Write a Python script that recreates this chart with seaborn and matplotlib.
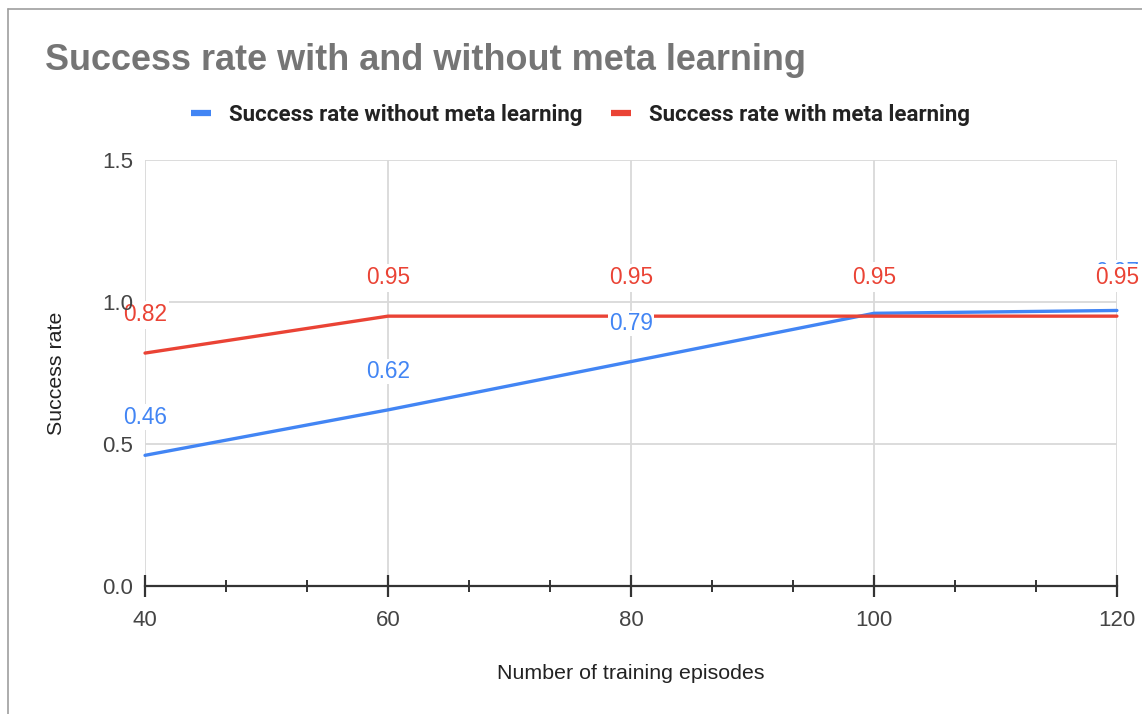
import matplotlib
matplotlib.use("Agg")
import matplotlib.pyplot as plt
import seaborn as sns
import pandas as pd
from matplotlib.ticker import MultipleLocator, FixedLocator, FormatStrFormatter
from matplotlib.lines import Line2D

episodes = [40, 60, 80, 100, 120]
without_meta = [0.46, 0.62, 0.79, 0.96, 0.97]
with_meta = [0.82, 0.95, 0.95, 0.95, 0.95]
series_names = ["Success rate without meta learning", "Success rate with meta learning"]
colors = ["#4285F4", "#EA4335"]

df = pd.DataFrame({
    "episodes": episodes * 2,
    "rate": without_meta + with_meta,
    "series": [series_names[0]] * len(episodes) + [series_names[1]] * len(episodes),
})

sns.set_style("white")
plt.rcParams["font.family"] = ["Liberation Sans", "DejaVu Sans"]

fig = plt.figure(figsize=(11.42, 7.14), dpi=100)
ax = fig.add_axes([0.127, 0.1793, 0.851, 0.5967])

sns.lineplot(data=df, x="episodes", y="rate", hue="series", palette=colors,
             linewidth=2.4, ax=ax, legend=False, zorder=3, clip_on=False)

ax.set_xlim(40, 120)
ax.set_ylim(0, 1.5)
ax.xaxis.set_major_locator(FixedLocator(episodes))
ax.xaxis.set_minor_locator(MultipleLocator(20 / 3))
ax.yaxis.set_major_locator(MultipleLocator(0.5))
ax.yaxis.set_major_formatter(FormatStrFormatter("%.1f"))

# gridlines drawn beneath the data, so the axis (tick labels) can sit on top
ax.grid(False)
for yv in ax.get_yticks():
    if 0 < yv <= 1.5:
        ax.axhline(yv, color="#d9d9d9", linewidth=1.3, zorder=0)
for xv in ax.get_xticks():
    ax.axvline(xv, color="#d9d9d9", linewidth=1.3, zorder=0)
ax.xaxis.set_zorder(10)
ax.yaxis.set_zorder(10)

for s in ["top", "right", "left"]:
    ax.spines[s].set_visible(False)
ax.spines["bottom"].set_color("#333333")
ax.spines["bottom"].set_linewidth(1.6)
ax.spines["bottom"].set_zorder(9)

ax.tick_params(axis="x", which="both", bottom=True)
ax.tick_params(axis="x", which="major", direction="inout", length=16, width=1.6,
               color="#333333", labelsize=16, labelcolor="#444444", pad=9)
ax.tick_params(axis="x", which="minor", direction="inout", length=8, width=1.4,
               color="#333333")
ax.tick_params(axis="y", which="major", left=False, length=0, labelsize=16,
               labelcolor="#444444", pad=8.5)

ax.set_xlabel("Number of training episodes", fontsize=15.4, color="#222222", labelpad=24)
ax.set_ylabel("Success rate", fontsize=15.4, color="#222222", labelpad=26)

# data labels: blue first, red on top with white box
for vals, col, z, pad in [(without_meta, colors[0], 5, 0.05), (with_meta, colors[1], 6, 0.1)]:
    for x, v in zip(episodes, vals):
        ax.annotate(f"{v:.2f}", (x, v),
                    xytext=(0, 27.5), textcoords="offset points", ha="center",
                    va="center", fontsize=16.3, color=col, zorder=z,
                    annotation_clip=False,
                    bbox=dict(boxstyle=f"square,pad={pad}", fc="white", ec="none"))

fig.text(0.039, 0.9146, "Success rate with and without meta learning",
         fontsize=25.9, fontweight="bold", color="#757575", va="center", ha="left")

handles = [Line2D([0], [0], color=c, linewidth=4.5, solid_capstyle="butt") for c in colors]
leg = fig.legend(handles, series_names, loc="center", bbox_to_anchor=(0.5085, 0.839),
                 ncol=2, frameon=False, handlelength=0.9, handletextpad=0.8,
                 columnspacing=1.3,
                 prop={"family": ["Roboto", "DejaVu Sans"], "weight": "bold", "size": 16})
for t in leg.get_texts():
    t.set_color("#222222")

# outer border (left and top edges)
fig.add_artist(Line2D([0.007, 0.007], [0, 0.988], transform=fig.transFigure,
                      color="#9e9e9e", linewidth=1.2))
fig.add_artist(Line2D([0.007, 1.0], [0.988, 0.988], transform=fig.transFigure,
                      color="#9e9e9e", linewidth=1.2))

fig.savefig("out.png", dpi=100, facecolor="white")
